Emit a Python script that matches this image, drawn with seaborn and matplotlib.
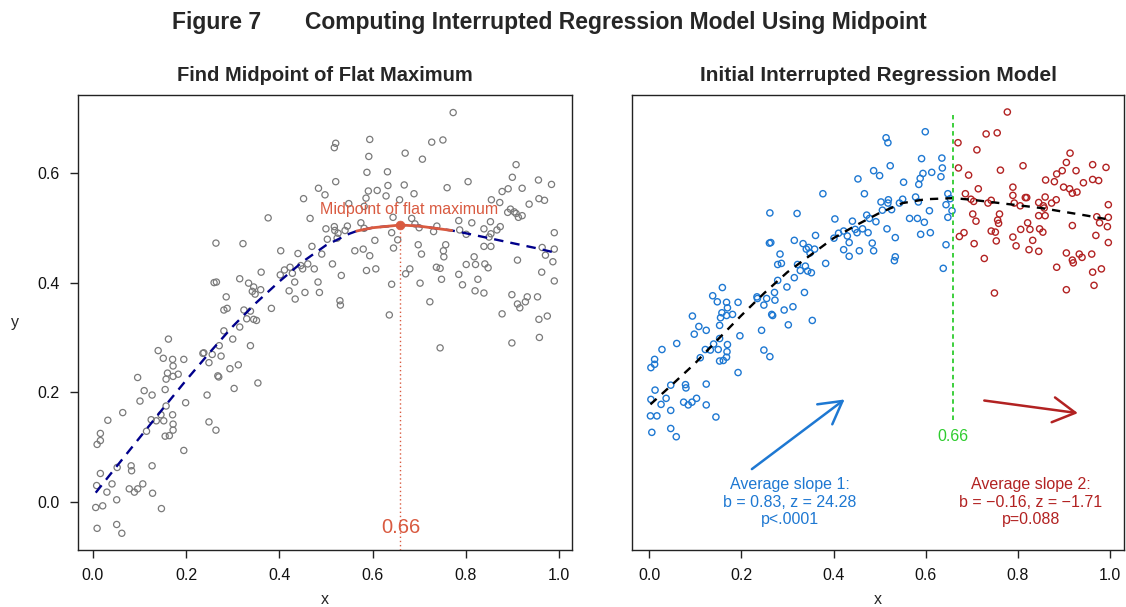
import numpy as np
import pandas as pd
import matplotlib
matplotlib.use("Agg")
import matplotlib.pyplot as plt
import seaborn as sns

# ---------------- data ----------------
left_x = [0.162,0.140,0.151,0.171,0.195,0.172,0.236,0.238,0.249,0.160,
          0.157,0.172,0.183,0.096,0.110,0.155,0.127,0.101,0.199,0.245,
          0.157,0.064,0.032,0.146,0.171,0.125,0.136,0.152,0.115,0.172,
          0.172,0.249,0.016,0.016,0.009,0.155,0.164,0.195,0.052,0.082,
          0.083,0.127,0.016,0.008,0.041,0.030,0.078,0.089,0.096,0.107,
          0.128,0.051,0.006,0.021,0.147,0.009,0.051,0.062,
          0.315,0.281,0.300,0.271,0.338,0.256,0.275,0.294,0.312,0.268,0.270,0.354,0.303,0.264,
          0.484,0.498,0.452,0.376,0.466,0.500,0.503,0.264,0.322,0.403,
          0.440,0.470,0.491,0.361,0.402,0.411,0.423,0.428,0.446,0.450,
          0.461,0.475,0.315,0.334,0.260,0.265,0.433,0.483,0.345,0.342,
          0.348,0.360,0.421,0.455,0.486,0.286,0.434,0.281,0.288,0.324,
          0.338,0.383,0.330,0.345,0.351,
          0.521,0.518,0.594,0.727,0.751,0.670,0.592,0.707,0.588,0.632,
          0.521,0.591,0.610,0.633,0.668,0.586,0.629,0.689,0.658,0.760,
          0.549,0.582,0.644,0.684,0.575,0.691,0.700,0.518,0.519,0.526,
          0.546,0.541,0.524,0.582,0.641,0.605,0.654,0.738,0.731,0.562,
          0.580,0.594,0.645,0.698,0.705,0.757,0.752,0.753,0.514,0.533,
          0.587,0.607,0.680,0.671,0.737,0.745,0.748,0.641,0.702,0.530,
          0.531,0.723,0.636,
          0.773,0.908,0.900,0.805,0.956,0.984,0.891,0.878,0.921,0.855,
          0.873,0.957,0.969,0.936,0.896,0.890,0.904,0.908,0.913,0.921,
          0.785,0.813,0.853,0.839,0.867,0.874,0.787,0.801,0.854,0.850,
          0.990,0.839,0.854,0.964,0.971,0.990,0.987,0.818,0.911,0.801,
          0.821,0.841,0.848,0.963,0.785,0.826,0.990,0.793,0.820,0.839,
          0.899,0.932,0.954,0.911,0.916,0.928,0.878,0.957,0.975,
          0.745,0.958,0.899]
left_y = [0.297,0.276,0.262,0.260,0.260,0.248,0.271,0.272,0.254,0.235,
          0.224,0.229,0.233,0.227,0.203,0.205,0.195,0.184,0.181,0.195,
          0.175,0.163,0.149,0.159,0.159,0.150,0.148,0.148,0.129,0.142,
          0.131,0.146,0.125,0.112,0.105,0.120,0.121,0.094,0.063,0.066,
          0.057,0.066,0.052,0.030,0.033,0.018,0.024,0.018,0.024,0.033,
          0.016,0.004,-0.010,-0.007,-0.012,-0.048,-0.041,-0.057,
          0.319,0.312,0.297,0.285,0.285,0.269,0.266,0.243,0.250,0.230,0.228,0.217,0.207,0.131,
          0.572,0.560,0.553,0.518,0.517,0.498,0.479,0.472,0.471,0.458,
          0.453,0.466,0.452,0.419,0.414,0.423,0.428,0.417,0.431,0.425,
          0.434,0.425,0.407,0.399,0.400,0.401,0.401,0.401,0.392,0.384,
          0.379,0.387,0.385,0.382,0.382,0.374,0.370,0.350,0.353,0.350,
          0.348,0.353,0.334,0.333,0.331,
          0.654,0.646,0.661,0.656,0.660,0.636,0.630,0.625,0.601,0.602,
          0.584,0.567,0.568,0.577,0.578,0.554,0.558,0.562,0.551,0.573,
          0.544,0.539,0.519,0.517,0.509,0.507,0.500,0.502,0.495,0.490,
          0.503,0.495,0.481,0.499,0.491,0.477,0.478,0.503,0.493,0.458,
          0.461,0.449,0.463,0.469,0.452,0.469,0.458,0.447,0.434,0.413,
          0.422,0.425,0.425,0.416,0.428,0.426,0.406,0.397,0.399,0.367,
          0.359,0.365,0.341,
          0.710,0.615,0.592,0.584,0.587,0.579,0.571,0.566,0.572,0.551,
          0.546,0.553,0.550,0.543,0.534,0.528,0.529,0.526,0.519,0.522,
          0.513,0.509,0.511,0.498,0.496,0.502,0.496,0.488,0.489,0.483,
          0.491,0.466,0.466,0.464,0.450,0.461,0.438,0.447,0.441,0.433,
          0.433,0.434,0.427,0.419,0.415,0.406,0.403,0.396,0.385,0.381,
          0.378,0.374,0.374,0.361,0.354,0.365,0.343,0.333,0.339,
          0.281,0.300,0.290]

left_fit_x = [0.006,0.05,0.1,0.15,0.2,0.25,0.3,0.35,0.4,0.45,0.5,0.55,0.566,
              0.6,0.66,0.7,0.77,0.8,0.85,0.9,0.95,0.99]
left_fit_y = [0.017,0.064,0.117,0.170,0.222,0.272,0.320,0.363,0.402,0.438,0.468,0.489,0.494,
              0.500,0.505,0.503,0.495,0.490,0.481,0.472,0.463,0.455]
flat_start, flat_end = 0.566, 0.77
midpoint_x, midpoint_y = 0.66, 0.505

right_before_x = [0.591,0.635,0.487,0.500,0.523,0.594,0.613,0.636,0.588,0.633,
    0.453,0.552,0.585,0.377,0.467,0.648,0.578,0.503,0.519,0.518,
    0.543,0.550,0.584,0.644,0.653,0.657,0.526,0.506,0.608,0.262,
    0.321,0.403,0.441,0.472,0.478,0.492,0.565,0.582,0.597,0.648,
    0.516,0.534,0.589,0.610,0.644,0.638,0.315,0.261,0.264,0.334,
    0.361,0.341,0.346,0.359,0.349,0.284,0.279,0.287,0.383,0.322,
    0.339,0.328,0.344,0.352,0.315,0.279,0.299,0.337,0.401,0.411,
    0.422,0.430,0.434,0.422,0.434,0.456,0.447,0.463,0.451,0.475,
    0.484,0.487,0.534,0.532,0.159,0.138,0.148,0.168,0.193,0.170,
    0.158,0.168,0.181,0.155,0.153,0.094,0.108,0.124,0.098,0.234,
    0.235,0.255,0.272,0.273,0.249,0.266,0.268,0.293,0.312,0.302,
    0.354,0.244,0.197,0.060,0.028,0.153,0.140,0.122,0.133,0.150,
    0.170,0.169,0.168,0.111,0.153,0.161,0.249,0.262,0.193,0.004,
    0.012,0.012,0.013,0.004,0.037,0.047,0.079,0.080,0.124,0.026,
    0.075,0.085,0.093,0.103,0.124,0.047,0.003,0.017,0.145,0.047,
    0.006,0.059,0.514,0.518,0.599]
right_before_y = [0.626,0.627,0.604,0.595,0.613,0.599,0.601,0.609,0.590,0.593,
    0.589,0.583,0.579,0.562,0.562,0.562,0.556,0.547,0.551,0.545,
    0.545,0.552,0.547,0.542,0.553,0.531,0.533,0.532,0.531,0.527,
    0.526,0.516,0.512,0.523,0.517,0.511,0.517,0.517,0.510,0.519,
    0.498,0.482,0.488,0.491,0.469,0.426,0.477,0.472,0.473,0.471,
    0.486,0.461,0.464,0.461,0.454,0.452,0.433,0.435,0.435,0.433,
    0.430,0.422,0.421,0.418,0.409,0.404,0.392,0.382,0.481,0.490,
    0.494,0.485,0.473,0.460,0.448,0.458,0.497,0.498,0.491,0.491,
    0.472,0.458,0.447,0.440,0.391,0.376,0.365,0.364,0.364,0.354,
    0.345,0.340,0.342,0.336,0.322,0.339,0.320,0.313,0.306,0.374,
    0.371,0.371,0.382,0.368,0.359,0.342,0.340,0.350,0.356,0.323,
    0.331,0.313,0.303,0.289,0.278,0.298,0.288,0.278,0.277,0.278,
    0.287,0.274,0.264,0.263,0.257,0.258,0.277,0.265,0.236,0.245,
    0.260,0.251,0.204,0.187,0.189,0.213,0.214,0.208,0.215,0.178,
    0.182,0.177,0.182,0.189,0.177,0.167,0.157,0.157,0.155,0.134,
    0.127,0.119,0.664,0.655,0.675]
right_after_x = [0.711,0.913,0.905,0.811,0.762,0.693,0.671,0.896,0.884,0.926,
    0.962,0.991,0.860,0.879,0.962,0.975,0.942,0.789,0.714,0.899,
    0.912,0.928,0.918,0.686,0.698,0.704,0.789,0.816,0.819,0.859,
    0.742,0.735,0.792,0.805,0.845,0.855,0.857,0.873,0.883,0.996,
    0.702,0.760,0.709,0.756,0.758,0.845,0.859,0.821,0.806,0.826,
    0.847,0.854,0.918,0.971,0.996,0.977,0.994,0.683,0.673,0.742,
    0.751,0.753,0.705,0.789,0.796,0.832,0.824,0.845,0.969,0.996,
    0.727,0.884,0.905,0.933,0.939,0.918,0.920,0.960,0.981,0.962,
    0.749,0.905,0.965,0.670,0.731,0.755,0.777]
right_after_y = [0.642,0.636,0.619,0.613,0.605,0.596,0.609,0.604,0.598,0.604,
    0.615,0.610,0.587,0.584,0.588,0.586,0.582,0.574,0.571,0.574,
    0.571,0.565,0.563,0.562,0.552,0.548,0.559,0.555,0.555,0.556,
    0.550,0.545,0.545,0.540,0.546,0.540,0.536,0.545,0.551,0.542,
    0.525,0.525,0.512,0.514,0.508,0.522,0.522,0.509,0.497,0.497,
    0.498,0.492,0.504,0.520,0.519,0.509,0.502,0.491,0.484,0.494,
    0.492,0.476,0.471,0.483,0.467,0.477,0.460,0.457,0.486,0.473,
    0.444,0.428,0.454,0.452,0.446,0.441,0.436,0.452,0.425,0.419,
    0.381,0.387,0.395,0.655,0.671,0.673,0.711]

right_fit_x = [0.003,0.05,0.1,0.15,0.2,0.25,0.3,0.35,0.4,0.45,0.5,0.55,0.6,0.66,
               0.7,0.75,0.8,0.85,0.9,0.95,0.99]
right_fit_y = [0.178,0.214,0.253,0.297,0.340,0.381,0.419,0.450,0.481,0.505,0.527,0.545,0.552,0.554,
               0.551,0.546,0.541,0.536,0.529,0.522,0.516]
break_x = 0.66
break_line_y = (0.150, 0.706)
break_label_y = 0.119

arrow1_tail, arrow1_tip = (0.223, 0.060), (0.424, 0.187)
arrow2_tail, arrow2_tip = (0.727, 0.185), (0.930, 0.162)
slope1_text = "Average slope 1:\nb = 0.83, z = 24.28\np<.0001"
slope2_text = "Average slope 2:\nb = \u22120.16, z = \u22121.71\np=0.088"
slope1_pos = (0.306, 0.0)
slope2_pos = (0.828, 0.0)
flat_label = "Midpoint of flat maximum"
flat_label_pos = (0.678, 0.533)
mid_label_y = -0.047

x_ticks = [0.0, 0.2, 0.4, 0.6, 0.8, 1.0]
x_tick_labels = ["0.0", "0.2", "0.4", "0.6", "0.8", "1.0"]
y_ticks = [0.0, 0.2, 0.4, 0.6]
y_tick_labels = ["0.0", "0.2", "0.4", "0.6"]

fig_label = "Figure 7"
fig_title = "Computing Interrupted Regression Model Using Midpoint"
left_title = "Find Midpoint of Flat Maximum"
right_title = "Initial Interrupted Regression Model"

# ---------------- styling ----------------
sns.set_theme(style="ticks")
plt.rcParams['font.family'] = ['Liberation Sans', 'DejaVu Sans']
title_family = ['Liberation Sans', 'DejaVu Sans']

GRAY = '#7a7a7a'
NAVY = '#00008B'
ORANGE = '#D95A40'
BLUE = '#1E78D2'
RED = '#B22222'
GREEN = '#2ECC2E'

W, H = 1126, 607
fig = plt.figure(figsize=(W / 100, H / 100), dpi=100)
fig.patch.set_facecolor('white')
axL = fig.add_axes([78 / W, 1 - 550 / H, 494 / W, 455 / H])
axR = fig.add_axes([632 / W, 1 - 550 / H, 492 / W, 455 / H])

ylim = (-0.0875, 0.742)

# ---- left panel ----
sns.scatterplot(x=left_x, y=left_y, ax=axL, marker='o', s=20, facecolors='none',
                edgecolor=GRAY, linewidth=0.9, legend=False, zorder=2)
sns.lineplot(x=left_fit_x, y=left_fit_y, ax=axL, color=NAVY, linewidth=1.7,
             linestyle=(0, (4, 3)), zorder=3)
fx = np.array(left_fit_x); fy = np.array(left_fit_y)
m = (fx >= flat_start) & (fx <= flat_end)
sns.lineplot(x=fx[m], y=fy[m], ax=axL, color=ORANGE, linewidth=2.0, zorder=4)
axL.vlines(midpoint_x, ylim[0], midpoint_y, colors=ORANGE, linestyles=(0, (1, 2)),
           linewidth=1.0, zorder=3)
sns.scatterplot(x=[midpoint_x], y=[midpoint_y], ax=axL, s=40, color=ORANGE,
                edgecolor=ORANGE, legend=False, zorder=5)
axL.text(flat_label_pos[0], flat_label_pos[1], flat_label, color=ORANGE, fontsize=11.5,
         ha='center', va='center', zorder=6)
axL.text(midpoint_x, mid_label_y, f"{midpoint_x:.2f}", color=ORANGE, fontsize=14.5,
         ha='center', va='center', zorder=6)
axL.set_xlim(-0.032, 1.028)
axL.set_ylim(*ylim)
axL.set_xticks(x_ticks, x_tick_labels)
axL.set_yticks(y_ticks, y_tick_labels)
axL.set_xlabel('x', fontsize=11.5, va='center')
axL.set_ylabel('y', fontsize=11.5, rotation=0, ha='center', va='center')
axL.xaxis.set_label_coords(0.5, -0.108)
axL.yaxis.set_label_coords(-0.128, 0.5)
axL.set_title(left_title, fontsize=14.5, fontweight='bold', family=title_family, pad=10)

# ---- right panel ----
df_r = pd.DataFrame({
    'x': right_before_x + right_after_x,
    'y': right_before_y + right_after_y,
    'segment': ['before'] * len(right_before_x) + ['after'] * len(right_after_x),
})
for seg, col in (('before', BLUE), ('after', RED)):
    sub = df_r[df_r['segment'] == seg]
    sns.scatterplot(data=sub, x='x', y='y', ax=axR, marker='o', s=20, facecolors='none',
                    edgecolor=col, linewidth=1.0, legend=False, zorder=2)
sns.lineplot(x=right_fit_x, y=right_fit_y, ax=axR, color='black', linewidth=1.7,
             linestyle=(0, (3.5, 3)), zorder=3)
axR.vlines(break_x, break_line_y[0], break_line_y[1], colors=GREEN,
           linestyles=(0, (2.5, 2)), linewidth=1.3, zorder=3)
axR.text(break_x, break_label_y, f"{break_x:.2f}", color=GREEN, fontsize=11.5,
         ha='center', va='center')
axR.annotate('', xy=arrow1_tip, xytext=arrow1_tail,
             arrowprops=dict(arrowstyle='->,head_length=1.6,head_width=0.9', color=BLUE,
                             lw=1.8, shrinkA=0, shrinkB=0, mutation_scale=10))
axR.annotate('', xy=arrow2_tip, xytext=arrow2_tail,
             arrowprops=dict(arrowstyle='->,head_length=1.6,head_width=0.9', color=RED,
                             lw=1.8, shrinkA=0, shrinkB=0, mutation_scale=10))
axR.text(*slope1_pos, slope1_text, color=BLUE, fontsize=11.5, ha='center', va='center',
         linespacing=1.2)
axR.text(*slope2_pos, slope2_text, color=RED, fontsize=11.5, ha='center', va='center',
         linespacing=1.2)
axR.set_xlim(-0.037, 1.030)
axR.set_ylim(*ylim)
axR.set_xticks(x_ticks, x_tick_labels)
axR.set_yticks([])
axR.set_xlabel('x', fontsize=11.5, va='center')
axR.set_ylabel('')
axR.xaxis.set_label_coords(0.5, -0.108)
axR.set_title(right_title, fontsize=15, fontweight='bold', family=title_family, pad=10)

for ax in (axL, axR):
    for sp in ax.spines.values():
        sp.set_visible(True)
        sp.set_color('#222222')
        sp.set_linewidth(1.0)
    ax.tick_params(direction='out', length=6, width=1.0, color='#222222', pad=7,
                   labelsize=11.5, labelcolor='#111111')
    ax.grid(False)

fig.text(172 / W, 1 - 22 / H, fig_label, fontsize=16.5, fontweight='bold',
         family=title_family, ha='left', va='center')
fig.text(305 / W, 1 - 22 / H, fig_title, fontsize=16.5, fontweight='bold',
         family=title_family, ha='left', va='center')

fig.savefig('out.png', dpi=100)
